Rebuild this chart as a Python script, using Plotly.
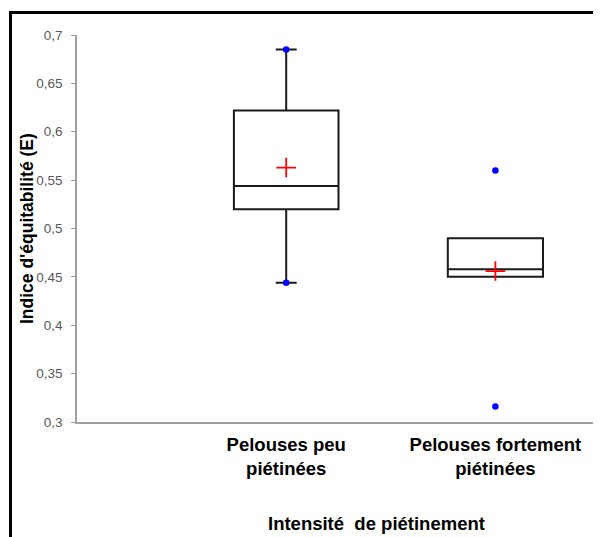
import plotly.graph_objects as go

# ---- data ----
categories = ["Pelouses peu<br>piétinées", "Pelouses fortement<br>piétinées"]
q1_vals = [0.520, 0.450]
median_vals = [0.544, 0.458]
q3_vals = [0.622, 0.490]
lower_whisker = [0.444, 0.450]
upper_whisker = [0.685, 0.490]
min_vals = [0.444, 0.316]
max_vals = [0.685, 0.560]
mean_vals = [0.563, 0.456]
box_widths = [0.50, 0.455]
y_tickvals = [0.3, 0.35, 0.4, 0.45, 0.5, 0.55, 0.6, 0.65, 0.7]
y_ticktext = ["0,3", "0,35", "0,4", "0,45", "0,5", "0,55", "0,6", "0,65", "0,7"]

OFF = 8  # page body margin
W, H = 601 - OFF, 537 - OFF
ML, MR, MT, MB = 77 - OFF, 1, 35 - OFF, 115
PW, PH = W - ML - MR, H - MT - MB

def px_x(p):
    return (p - OFF - ML) / PW

def px_y(p):
    return (MT + PH - (p - OFF)) / PH

fig = go.Figure()

for i, cat in enumerate(categories):
    fig.add_trace(go.Box(
        x=[cat],
        q1=[q1_vals[i]], median=[median_vals[i]], q3=[q3_vals[i]],
        lowerfence=[lower_whisker[i]], upperfence=[upper_whisker[i]],
        width=box_widths[i],
        whiskerwidth=0.2,
        fillcolor="rgba(255,255,255,0)",
        line=dict(color="#1a1a1a", width=2),
        boxpoints=False,
        showlegend=False,
        hoverinfo="skip",
    ))

fig.add_trace(go.Scatter(
    x=categories + categories, y=min_vals + max_vals,
    mode="markers",
    marker=dict(symbol="circle", size=6.5, color="#0000ff"),
    showlegend=False, hoverinfo="skip",
))
fig.add_trace(go.Scatter(
    x=categories, y=mean_vals,
    mode="markers",
    marker=dict(symbol="cross-thin", size=14, color="red",
                line=dict(color="red", width=1.8)),
    showlegend=False, hoverinfo="skip",
))

fig.update_layout(
    width=W, height=H,
    margin=dict(l=ML, r=MR, t=MT, b=MB),
    paper_bgcolor="white", plot_bgcolor="white",
    boxmode="overlay",
    font=dict(family="Liberation Sans, Arial, sans-serif"),
    xaxis=dict(
        type="category", categoryorder="array", categoryarray=categories,
        range=[-1, 1.5],
        showline=True, linecolor="#a0a0a0", linewidth=1.5,
        showgrid=False, zeroline=False, ticks="",
        ticklabelstandoff=5,
        tickfont=dict(size=18.5, color="black", family="Liberation Sans, Arial, sans-serif", weight="bold"),
    ),
    yaxis=dict(
        range=[0.3, 0.7],
        tickvals=y_tickvals, ticktext=y_ticktext,
        showline=True, linecolor="#a0a0a0", linewidth=1.5,
        ticks="outside", ticklen=4, tickcolor="#a0a0a0",
        ticklabelstandoff=6,
        showgrid=False, zeroline=False,
        tickfont=dict(size=13.5, color="#595959"),
    ),
    annotations=[
        dict(text="<b>Indice d'équitabilité (E)</b>", textangle=-90,
             xref="paper", yref="paper", x=px_x(27), y=px_y(229),
             xanchor="center", yanchor="middle", showarrow=False,
             font=dict(size=17.5, color="black")),
        dict(text="<b>Intensité  de piétinement</b>",
             xref="paper", yref="paper", x=px_x(376), y=px_y(523),
             xanchor="center", yanchor="middle", showarrow=False,
             font=dict(size=18.5, color="black")),
    ],
    shapes=[
        dict(type="path", xref="paper", yref="paper",
             path=f"M {px_x(10.5)} {px_y(560)} L {px_x(10.5)} {px_y(12.5)} L {px_x(620)} {px_y(12.5)}",
             line=dict(color="black", width=3)),
    ],
)

fig.write_html("out.html")
